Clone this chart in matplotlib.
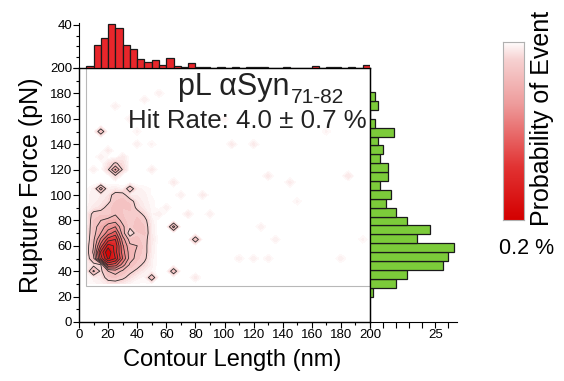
import numpy as np
import matplotlib
matplotlib.use('Agg')
import matplotlib.pyplot as plt
from matplotlib.colors import LinearSegmentedColormap
from matplotlib.patches import Rectangle
from matplotlib.ticker import MultipleLocator, FixedLocator

plt.rcParams['font.family'] = ['Liberation Sans', 'DejaVu Sans']

# top histogram: contour length, 5 nm bins starting at 5 nm
length_start = 5
length_bin = 5
length_counts = [2, 21, 28, 41, 37, 21, 18, 8, 6, 7,
                 3, 9, 2, 1, 5, 1, 1, 0, 1, 0,
                 1, 0, 1, 1, 1, 0, 0, 1, 0, 0,
                 0, 2, 0, 1, 1, 0, 1, 0, 3]

# right histogram: rupture force, 7 pN bins starting at 20 pN
force_start = 20
force_bin = 7
force_counts = [1, 10, 14, 28, 30, 32, 18, 23, 14, 10, 6, 8,
                4, 7, 7, 4, 5, 3, 9, 2, 0, 3, 2]

# 2D probability map, grid of 5 nm x 5 pN
grid_x = np.arange(5, 201, 5)
grid_y = np.arange(30, 201, 5)

# dense cluster, x = 5..50 nm, rows from y = 105 down to 30 pN
blob_x = np.arange(5, 51, 5)
blob_y = np.arange(105, 29, -5)
blob = [
    [.01, .03, .25, .03, .04, .02, .17, .03, .02, .01],
    [.02, .03, .04, .06, .14, .14, .04, .04, .03, .01],
    [.02, .03, .05, .08, .15, .16, .14, .06, .03, .02],
    [.02, .05, .07, .13, .17, .15, .16, .08, .04, .02],
    [.03, .13, .14, .12, .19, .15, .14, .14, .08, .02],
    [.03, .15, .20, .24, .26, .17, .12, .16, .13, .03],
    [.03, .16, .25, .35, .40, .22, .12, .18, .15, .04],
    [.04, .16, .30, .45, .55, .25, .04, .14, .16, .04],
    [.04, .18, .42, .65, .70, .35, .16, .16, .13, .05],
    [.05, .20, .55, .85, .78, .42, .22, .20, .13, .04],
    [.05, .22, .72, 1.0, .75, .45, .25, .18, .13, .04],
    [.04, .18, .65, .92, .80, .50, .25, .16, .12, .03],
    [.03, .07, .095, .60, .55, .35, .18, .13, .08, .03],
    [.02, .22, .08, .20, .25, .18, .12, .08, .04, .02],
    [.01, .03, .05, .14, .15, .12, .07, .03, .02, .17],
    [.01, .02, .03, .05, .06, .04, .02, .01, .01, .01],
]

# isolated cells outside the cluster (x nm, y pN, probability)
spot_x = [15, 25, 20, 30, 25, 25, 20, 30, 65, 80, 65,
          105, 120, 130, 145, 185, 65, 85, 70, 75, 90, 125, 135,
          120, 130, 180, 195, 80, 110, 20, 30, 40, 25, 45, 55,
          35, 50, 60, 55, 10, 170, 150, 100, 15, 40, 50]
spot_y = [150, 120, 120, 120, 125, 115, 125, 125, 75, 65, 40,
          140, 140, 115, 110, 115, 110, 100, 100, 85, 85, 75, 65,
          50, 50, 50, 65, 35, 50, 135, 130, 140, 170, 175, 180,
          160, 120, 90, 85, 120, 150, 95, 160, 130, 150, 140]
spot_v = [.17, .32, .09, .09, .11, .08, .06, .07, .24, .17, .17,
          .05, .05, .05, .05, .06, .05, .05, .04, .05, .04, .04, .04,
          .04, .04, .04, .03, .05, .04, .05, .05, .04, .04, .04, .04,
          .04, .05, .04, .04, .04, .03, .03, .03, .04, .03, .03]

Z = np.zeros((len(grid_y), len(grid_x)))
for i, yv in enumerate(blob_y):
    for j, xv in enumerate(blob_x):
        Z[np.searchsorted(grid_y, yv), np.searchsorted(grid_x, xv)] = blob[i][j]
for xv, yv, v in zip(spot_x, spot_y, spot_v):
    Z[np.searchsorted(grid_y, yv), np.searchsorted(grid_x, xv)] = v

W, H = 564, 381
fig = plt.figure(figsize=(W / 100, H / 100), dpi=100)


def px_axes(x0, y0, x1, y1):
    return fig.add_axes([x0 / W, 1 - y1 / H, (x1 - x0) / W, (y1 - y0) / H])


cmap = LinearSegmentedColormap.from_list(
    'wr', [(0, '#ffffff'), (0.1, '#f7d2d2'), (0.35, '#ee9c9c'), (0.7, '#e23434'), (1, '#d40000')])

ax = px_axes(79, 68, 370, 322)
ax.set_xlim(0, 200)
ax.set_ylim(0, 200)
fill_levels = np.concatenate([[0.012, 0.025, 0.04, 0.06, 0.08], np.arange(0.1, 1.05, 0.05)])
ax.contourf(grid_x, grid_y, Z, levels=fill_levels, cmap=cmap, vmin=0, vmax=1, extend='neither')
ax.contour(grid_x, grid_y, Z, levels=np.arange(0.1, 1.0, 0.1), colors='#2a2a2a', linewidths=0.6)
ax.add_patch(Rectangle((grid_x[0], grid_y[0] - 2), grid_x[-1] - grid_x[0], grid_y[-1] - grid_y[0] + 2,
                       fill=False, ec='#b8b8b8', lw=0.8))
ax.xaxis.set_major_locator(MultipleLocator(20))
ax.xaxis.set_minor_locator(MultipleLocator(10))
ax.yaxis.set_major_locator(MultipleLocator(20))
ax.yaxis.set_minor_locator(MultipleLocator(10))
ax.tick_params(which='both', direction='out', labelsize=9.5, pad=1, width=0.8)
ax.tick_params(which='major', length=4)
ax.tick_params(which='minor', length=2.5)
for s in ax.spines.values():
    s.set_linewidth(1.0)
ax.set_xlabel('Contour Length (nm)', fontsize=17)
ax.xaxis.set_label_coords(0.527, -0.105)
ax.set_ylabel('Rupture Force (pN)', fontsize=18)
ax.yaxis.set_label_coords(-0.125, 0.54)

t = ax.text(0.34, 0.894, 'pL αSyn', transform=ax.transAxes, fontsize=22,
            ha='left', va='baseline', color='#222222')
ax.annotate('71-82', xy=(1, 0), xycoords=t, xytext=(1, -1), textcoords='offset points',
            fontsize=15, ha='left', va='baseline', color='#222222')
ax.text(0.168, 0.764, 'Hit Rate: 4.0 ± 0.7 %', transform=ax.transAxes, fontsize=18.6,
        ha='left', va='baseline', color='#222222')

# top histogram
axt = px_axes(79, 23, 370, 68)
axt.bar(length_start + length_bin * np.arange(len(length_counts)), length_counts,
        width=length_bin, align='edge', color='#e8262b', edgecolor='#1a1a1a', linewidth=0.9)
axt.set_xlim(0, 200)
axt.set_ylim(0, 41.6)
axt.set_xticks([])
axt.yaxis.set_major_locator(FixedLocator([0, 40]))
axt.yaxis.set_minor_locator(MultipleLocator(10))
axt.set_yticklabels(['', '40'])
axt.tick_params(which='both', direction='out', labelsize=9.5, pad=1, width=0.8)
axt.tick_params(which='major', length=4)
axt.tick_params(which='minor', length=2.5)
for side in ['top', 'right', 'bottom']:
    axt.spines[side].set_visible(False)
axt.patch.set_alpha(0)

# right histogram
axr = px_axes(370, 68, 457, 322)
axr.barh(force_start + force_bin * np.arange(len(force_counts)), force_counts,
         height=force_bin, align='edge', color='#7ccb3a', edgecolor='#1a1a1a', linewidth=0.9)
axr.set_ylim(0, 200)
axr.set_xlim(0, 33.3)
axr.set_yticks([])
axr.xaxis.set_major_locator(FixedLocator([0, 25]))
axr.xaxis.set_minor_locator(MultipleLocator(5))
axr.set_xticklabels(['', '25'])
axr.tick_params(which='both', direction='out', labelsize=9.5, pad=1, width=0.8)
axr.tick_params(which='major', length=4)
axr.tick_params(which='minor', length=4)
for side in ['top', 'right']:
    axr.spines[side].set_visible(False)
axr.patch.set_alpha(0)

# colour scale
axc = px_axes(503, 42, 524, 220)
axc.imshow(np.linspace(0, 1, 256)[:, None], aspect='auto', cmap=cmap, extent=(0, 1, 0, 1), origin='upper')
axc.set_xticks([])
axc.set_yticks([])
for s in axc.spines.values():
    s.set_edgecolor('#b0b0b0')
    s.set_linewidth(0.8)
fig.text(542 / W, 1 - 118 / H, 'Probability of Event', fontsize=18, rotation=90,
         ha='center', va='center')
fig.text(526.5 / W, 1 - 248 / H, '0.2 %', fontsize=15.5, ha='center', va='center')

fig.savefig('out.png', dpi=100)
